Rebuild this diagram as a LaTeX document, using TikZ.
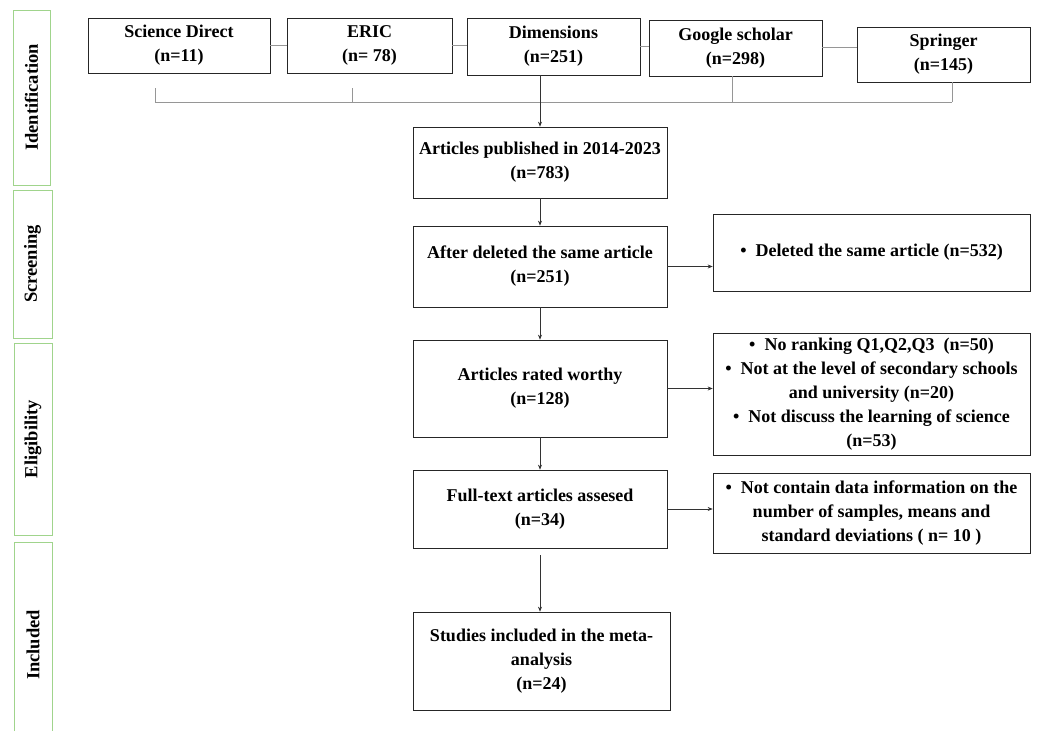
\documentclass[tikz,border=0pt]{standalone}
\usepackage{fontspec}
\setmainfont{Liberation Serif}
\usetikzlibrary{arrows.meta,calc}
\definecolor{stagegreen}{RGB}{160,212,140}
\definecolor{linegray}{RGB}{150,150,150}
\begin{document}
\begin{tikzpicture}[x=1pt,y=-1pt,
  box/.style={draw=black!85,line width=0.7pt,align=center,inner sep=2pt,font=\bfseries\fontsize{18}{24}\selectfont},
  stagetext/.style={rotate=90,font=\bfseries\fontsize{18.5}{22}\selectfont},
  stageline/.style={draw=stagegreen,line width=1pt},
  link/.style={draw=linegray,line width=0.8pt},
  arr/.style={draw=black!80,line width=0.6pt,-{Stealth[length=5pt,width=4pt]}}]
\useasboundingbox (0,0) rectangle (1038,731);
% stage boxes
\node[stageline,minimum width=37pt,minimum height=175pt] (sid) at (31.5,97.5) {};
\node[stagetext] (tid) at (sid.center) {Identification};
\node[stageline,minimum width=39pt,minimum height=148pt] (ssc) at (32.5,264) {};
\node[stagetext] (tsc) at (ssc.center) {Screening};
\node[stageline,minimum width=38pt,minimum height=192pt] (sel) at (33,439) {};
\node[stagetext] (tel) at (sel.center) {Eligibility};
\coordinate (incbl) at (14,731);
\coordinate (inctl) at (14,542);
\coordinate (inctr) at (52,542);
\coordinate (incbr) at (52,731);
\draw[stageline] (incbl) -- (inctl) -- (inctr) -- (incbr);
\node[stagetext] (tin) at (33,645) {Included};
% top sources
\node[box,minimum width=182pt,minimum height=55pt] (sd) at (179,45.5) {Science Direct\\(n=11)};
\node[box,minimum width=165pt,minimum height=55pt] (eric) at (369.5,45.5) {ERIC\\(n= 78)};
\node[box,minimum width=173pt,minimum height=57pt] (dim) at (553.5,46.5) {Dimensions\\(n=251)};
\node[box,minimum width=173pt,minimum height=56pt] (gs) at (735.5,48) {Google scholar\\(n=298)};
\node[box,minimum width=173pt,minimum height=55pt] (spr) at (943.5,54.5) {Springer\\(n=145)};
\draw[link] (sd.east) -- (eric.west);
\draw[link] (eric.east) -- (eric.east -| dim.west);
\draw[link] (dim.east) -- (dim.east -| gs.west);
% main column
\node[box,minimum width=254pt,minimum height=71pt] (pub) at (540,162.5) {Articles published in 2014-2023\\(n=783)};
\node[box,minimum width=254pt,minimum height=81pt] (del) at (540,266.5) {After deleted the same article\\(n=251)};
\node[box,minimum width=254pt,minimum height=97pt] (rat) at (540,388.5) {Articles rated worthy\\(n=128)};
\node[box,minimum width=254pt,minimum height=78pt] (ful) at (540,509) {Full-text articles assesed\\(n=34)};
\node[box,minimum width=257pt,minimum height=98pt] (inc) at (541.5,661) {Studies included in the meta-\\analysis\\(n=24)};
% right boxes
\node[box,minimum width=317pt,minimum height=77pt] (r1) at (871.5,252.5) {\textbullet\ \ Deleted the same article (n=532)};
\node[box,minimum width=317pt,minimum height=122pt] (r2) at (871.5,394) {\textbullet\ \ No ranking Q1,Q2,Q3\ \ (n=50)\\\textbullet\ \ Not at the level of secondary schools\\and university (n=20)\\\textbullet\ \ Not discuss the learning of science\\(n=53)};
\node[box,minimum width=317pt,minimum height=80pt] (r3) at (871.5,513) {\textbullet\ \ Not contain data information on the\\number of samples, means and\\standard deviations ( n= 10 )};
% links
\coordinate (brl) at (155,102);
\coordinate (brr) at (952,102);
\draw[link] (brl) -- (brr);
\draw[link] (brl) -- (155,88);
\draw[link] (352,102) -- (352,88);
\draw[link] (732,102) -- (gs.south -| 732,0);
\draw[link] (952,102) -- (spr.south -| 952,0);
\draw[link] (gs.east |- 0,47) -- (spr.west |- 0,47);
\draw[arr] (pub.north |- dim.south) -- (pub.north);
\draw[arr] (pub.south) -- (del.north);
\draw[arr] (del.south) -- (rat.north);
\draw[arr] (rat.south) -- (ful.north);
\draw[arr] ([yshift=-7pt]ful.south) -- (ful.south |- inc.north);
\draw[arr] (del.east) -- (del.east -| r1.west);
\draw[arr] (rat.east) -- (rat.east -| r2.west);
\draw[arr] (ful.east) -- (ful.east -| r3.west);
\end{tikzpicture}
\end{document}
